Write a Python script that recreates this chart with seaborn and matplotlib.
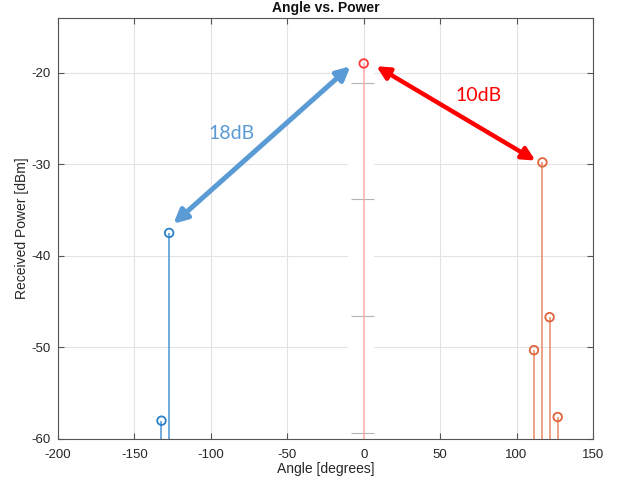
import matplotlib
matplotlib.use("Agg")
import matplotlib.pyplot as plt
import seaborn as sns
import pandas as pd
from matplotlib.patches import FancyArrowPatch, Rectangle

# ---- data ----
blue_angle = [-132.3, -127.3]
blue_power = [-58.0, -37.5]
orange_angle = [111.4, 116.9, 121.6, 126.9]
orange_power = [-50.3, -29.8, -46.7, -57.6]
red_angle = [0.0]
red_power = [-19.0]
artifact_levels = [-21.1, -33.85, -46.6, -59.35]

x_ticks = [-200, -150, -100, -50, 0, 50, 100, 150]
y_ticks = [-60, -50, -40, -30, -20]

df = pd.DataFrame({
    "angle": blue_angle + orange_angle + red_angle,
    "power": blue_power + orange_power + red_power,
    "group": ["blue"] * len(blue_angle) + ["orange"] * len(orange_angle) + ["red"] * len(red_angle),
})

sns.set_theme(style="whitegrid")
plt.rcParams["font.family"] = ["Liberation Sans", "DejaVu Sans"]
plt.rcParams["axes.unicode_minus"] = False

fig = plt.figure(figsize=(6.19, 4.83), dpi=100)
ax = fig.add_axes([0.0937, 0.0911, 0.958 - 0.0937, 0.9634 - 0.0911])
ax.set_facecolor("white")

ymin, ymax = -60, -14
ax.set_xlim(-200, 150)
ax.set_ylim(ymin, ymax)
ax.set_xticks(x_ticks)
ax.set_yticks(y_ticks)
ax.grid(True, color="#e3e3e3", lw=0.8)
ax.set_axisbelow(True)

# white overlay covering the grid near x=0 (artifact in the reference)
ax.add_patch(Rectangle((-10, ymin), 17, -19.9 - ymin, facecolor="white",
                       edgecolor="none", zorder=0.6))
ax.hlines(artifact_levels, -8, 6.5, color="#b5b5b5", lw=0.8, zorder=0.7)

stem_colors = {"blue": "#4a94d6", "orange": "#e88a66", "red": "#ffaaaa"}
mark_colors = {"blue": "#2b80c6", "orange": "#e2643c", "red": "#ff3b3b"}

for g, sub in df.groupby("group"):
    ax.vlines(sub["angle"], ymin, sub["power"], color=stem_colors[g],
              lw=1.1, zorder=2)

sns.scatterplot(data=df, x="angle", y="power", hue="group",
                palette=mark_colors, marker="o", s=38,
                facecolor="none", linewidth=1.3, legend=False, ax=ax, zorder=3)
for coll in ax.collections:
    if hasattr(coll, "get_offsets") and len(coll.get_offsets()) == len(df):
        fc = coll.get_facecolors()
        coll.set_edgecolors(fc)
        coll.set_facecolors("none")

# arrows
a1 = FancyArrowPatch((-124.5, -36.5), (-8.7, -19.3), arrowstyle="<|-|>",
                     mutation_scale=20, color="#5b9bd5", lw=3.6,
                     shrinkA=0, shrinkB=0, zorder=4)
a2 = FancyArrowPatch((8.3, -19.3), (112.3, -29.6), arrowstyle="<|-|>",
                     mutation_scale=19, color="#ff0000", lw=3.2,
                     shrinkA=0, shrinkB=0, zorder=4)
ax.add_patch(a1)
ax.add_patch(a2)
ax.text(-86.2, -26.6, "18dB", color="#5b9bd5", fontsize=14,
        family=["Lato", "DejaVu Sans"], ha="center", va="center", zorder=5)
ax.text(75, -22.5, "10dB", color="#ff0000", fontsize=14,
        family=["Lato", "DejaVu Sans"], ha="center", va="center", zorder=5)

for s in ax.spines.values():
    s.set_color("#555555")
    s.set_linewidth(0.8)
ax.tick_params(axis="both", which="both", direction="in", length=4,
               width=0.8, color="#555555", labelsize=9.5, labelcolor="#262626",
               top=True, right=True, bottom=True, left=True)
ax.tick_params(axis="x", pad=7)
ax.tick_params(axis="y", pad=5)

ax.set_xlabel("Angle [degrees]", fontsize=10, color="#262626", labelpad=1)
ax.set_ylabel("Received Power [dBm]", fontsize=10, color="#262626", labelpad=2)
ax.set_title("Angle vs. Power", fontsize=10, fontweight="bold", color="#111111", pad=4)

fig.savefig("out.png", dpi=100)
